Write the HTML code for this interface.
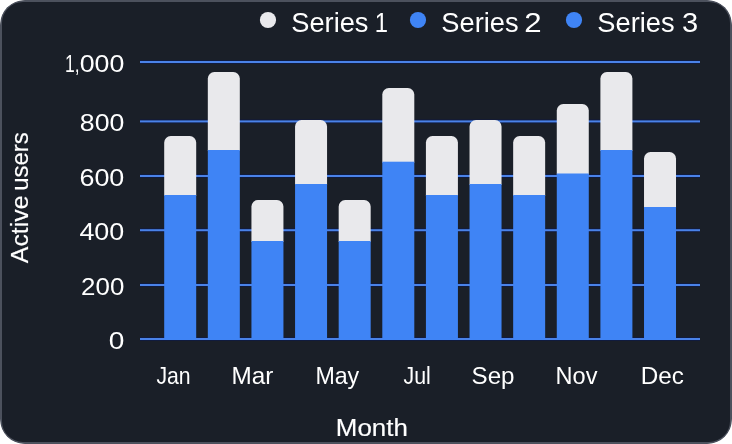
<!DOCTYPE html>
<html><head><meta charset="utf-8"><title>Chart</title>
<style>
html,body{margin:0;padding:0;background:#fff;}
body{width:732px;height:444px;overflow:hidden;position:relative;font-family:"Liberation Sans",sans-serif;}
#wrap{position:absolute;left:0;top:0;width:732px;height:444px;border-radius:25px;overflow:hidden;}
#card{position:absolute;left:0;top:0;width:732px;height:444px;box-sizing:border-box;background:#1a1f28;border:2px solid #4c515d;border-radius:23px;}
svg{position:absolute;left:0;top:0;}
text{font-family:"Liberation Sans",sans-serif;fill:#fff;}
</style></head><body>
<div id="wrap"><div id="card"></div></div>
<svg width="732" height="444" viewBox="0 0 732 444">
<rect x="140" y="60.00" width="560" height="4" fill="#0a1850" opacity="0.55"/>
<rect x="140" y="61.00" width="560" height="2" fill="#4a82e8"/>
<text transform="translate(64.99 71.70) scale(0.7303 1)" font-size="24">1,</text>
<text transform="translate(79.73 71.70) scale(1.1137 1)" font-size="24">000</text>
<rect x="140" y="119.40" width="560" height="4" fill="#0a1850" opacity="0.55"/>
<rect x="140" y="120.40" width="560" height="2" fill="#4a82e8"/>
<text transform="translate(79.87 131.10) scale(1.1102 1)" font-size="24">800</text>
<rect x="140" y="174.00" width="560" height="4" fill="#0a1850" opacity="0.55"/>
<rect x="140" y="175.00" width="560" height="2" fill="#4a82e8"/>
<text transform="translate(79.46 185.70) scale(1.1208 1)" font-size="24">600</text>
<rect x="140" y="228.20" width="560" height="4" fill="#0a1850" opacity="0.55"/>
<rect x="140" y="229.20" width="560" height="2" fill="#4a82e8"/>
<text transform="translate(79.39 239.90) scale(1.1223 1)" font-size="24">400</text>
<rect x="140" y="283.00" width="560" height="4" fill="#0a1850" opacity="0.55"/>
<rect x="140" y="284.00" width="560" height="2" fill="#4a82e8"/>
<text transform="translate(81.11 294.70) scale(1.0786 1)" font-size="24">200</text>
<rect x="140" y="337.00" width="560" height="4" fill="#0a1850" opacity="0.55"/>
<rect x="140" y="338.00" width="560" height="2" fill="#4a82e8"/>
<text transform="translate(108.78 348.70) scale(1.1693 1)" font-size="24">0</text>
<path d="M164.20 196 V142.5 a6.5 6.5 0 0 1 6.5 -6.5 h19.0 a6.5 6.5 0 0 1 6.5 6.5 V196 Z" fill="#e9e9ec"/>
<rect x="164.20" y="195" width="32" height="145.0" fill="#3f84f5"/>
<path d="M207.82 151 V78.5 a6.5 6.5 0 0 1 6.5 -6.5 h19.0 a6.5 6.5 0 0 1 6.5 6.5 V151 Z" fill="#e9e9ec"/>
<rect x="207.82" y="150" width="32" height="190.0" fill="#3f84f5"/>
<path d="M251.44 242 V206.5 a6.5 6.5 0 0 1 6.5 -6.5 h19.0 a6.5 6.5 0 0 1 6.5 6.5 V242 Z" fill="#e9e9ec"/>
<rect x="251.44" y="241" width="32" height="99.0" fill="#3f84f5"/>
<path d="M295.06 185 V126.5 a6.5 6.5 0 0 1 6.5 -6.5 h19.0 a6.5 6.5 0 0 1 6.5 6.5 V185 Z" fill="#e9e9ec"/>
<rect x="295.06" y="184" width="32" height="156.0" fill="#3f84f5"/>
<path d="M338.68 242 V206.5 a6.5 6.5 0 0 1 6.5 -6.5 h19.0 a6.5 6.5 0 0 1 6.5 6.5 V242 Z" fill="#e9e9ec"/>
<rect x="338.68" y="241" width="32" height="99.0" fill="#3f84f5"/>
<path d="M382.30 162.7 V94.5 a6.5 6.5 0 0 1 6.5 -6.5 h19.0 a6.5 6.5 0 0 1 6.5 6.5 V162.7 Z" fill="#e9e9ec"/>
<rect x="382.30" y="161.7" width="32" height="178.3" fill="#3f84f5"/>
<path d="M425.92 196 V142.5 a6.5 6.5 0 0 1 6.5 -6.5 h19.0 a6.5 6.5 0 0 1 6.5 6.5 V196 Z" fill="#e9e9ec"/>
<rect x="425.92" y="195" width="32" height="145.0" fill="#3f84f5"/>
<path d="M469.54 185 V126.5 a6.5 6.5 0 0 1 6.5 -6.5 h19.0 a6.5 6.5 0 0 1 6.5 6.5 V185 Z" fill="#e9e9ec"/>
<rect x="469.54" y="184" width="32" height="156.0" fill="#3f84f5"/>
<path d="M513.16 196 V142.5 a6.5 6.5 0 0 1 6.5 -6.5 h19.0 a6.5 6.5 0 0 1 6.5 6.5 V196 Z" fill="#e9e9ec"/>
<rect x="513.16" y="195" width="32" height="145.0" fill="#3f84f5"/>
<path d="M556.78 174.5 V110.5 a6.5 6.5 0 0 1 6.5 -6.5 h19.0 a6.5 6.5 0 0 1 6.5 6.5 V174.5 Z" fill="#e9e9ec"/>
<rect x="556.78" y="173.5" width="32" height="166.5" fill="#3f84f5"/>
<path d="M600.40 151 V78.5 a6.5 6.5 0 0 1 6.5 -6.5 h19.0 a6.5 6.5 0 0 1 6.5 6.5 V151 Z" fill="#e9e9ec"/>
<rect x="600.40" y="150" width="32" height="190.0" fill="#3f84f5"/>
<path d="M644.02 208 V158.5 a6.5 6.5 0 0 1 6.5 -6.5 h19.0 a6.5 6.5 0 0 1 6.5 6.5 V208 Z" fill="#e9e9ec"/>
<rect x="644.02" y="207" width="32" height="133.0" fill="#3f84f5"/>
<text transform="translate(156.38 384.20) scale(0.8851 1)" font-size="24">Jan</text>
<text transform="translate(231.59 384.20) scale(1.0128 1)" font-size="24">Mar</text>
<text transform="translate(315.38 384.20) scale(0.9672 1)" font-size="24">May</text>
<text transform="translate(403.48 384.20) scale(0.8891 1)" font-size="24">Jul</text>
<text transform="translate(471.51 384.20) scale(1.0069 1)" font-size="24">Sep</text>
<text transform="translate(555.56 384.20) scale(0.9813 1)" font-size="24">Nov</text>
<text transform="translate(640.70 384.20) scale(1.0120 1)" font-size="24">Dec</text>
<text transform="translate(335.86 436.10) scale(1.1275 1)" font-size="23" stroke="#fff" stroke-width="0.15">Month</text>
<text transform="translate(28.0 263.16) rotate(-90) scale(1.0585 1)" font-size="23.5" stroke="#fff" stroke-width="0.15">Active</text>
<text transform="translate(28.0 190.86) rotate(-90) scale(1.0180 1)" font-size="23.5" stroke="#fff" stroke-width="0.15">users</text>
<circle cx="268" cy="20" r="8.1" fill="#e9e9ec"/>
<text transform="translate(291.27 31.80) scale(1.0083 1)" font-size="27">Series</text>
<text transform="translate(374.71 31.80) scale(0.8820 1)" font-size="27">1</text>
<circle cx="418" cy="20" r="8.1" fill="#3f84f5"/>
<text transform="translate(441.37 31.80) scale(1.0083 1)" font-size="27">Series</text>
<text transform="translate(524.14 31.80) scale(1.1559 1)" font-size="27">2</text>
<circle cx="574" cy="20" r="8.1" fill="#3f84f5"/>
<text transform="translate(597.37 31.80) scale(1.0083 1)" font-size="27">Series</text>
<text transform="translate(682.11 31.80) scale(1.0760 1)" font-size="27">3</text>
</svg></body></html>
